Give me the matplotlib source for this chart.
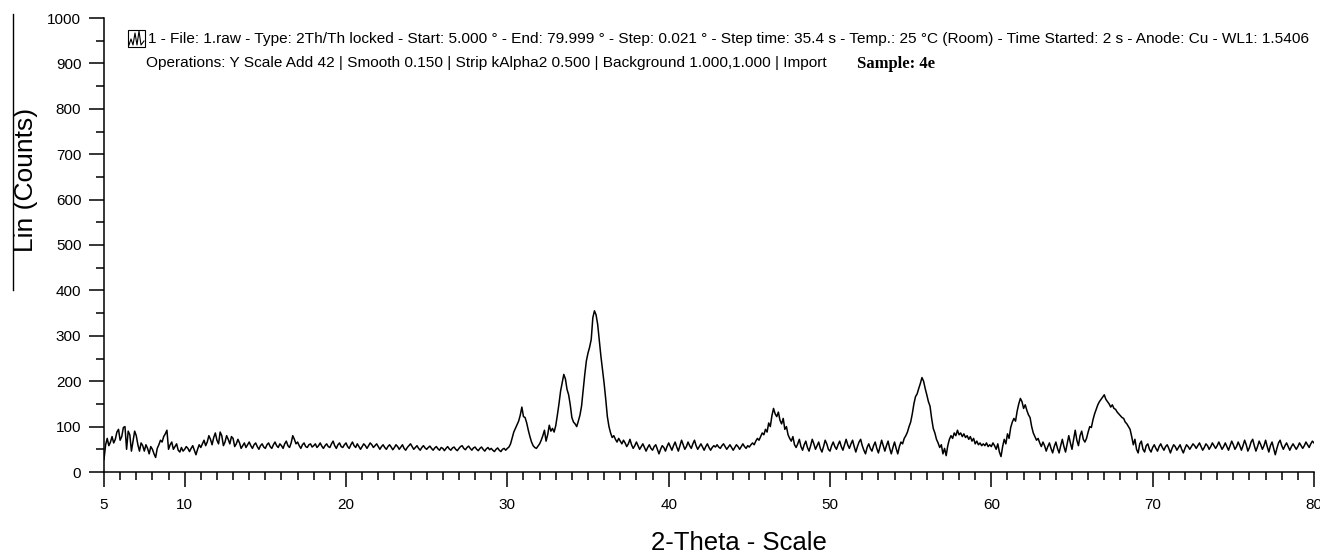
import numpy as np
import matplotlib
matplotlib.use("Agg")
import matplotlib.pyplot as plt
from matplotlib.lines import Line2D
from matplotlib.patches import Rectangle

# scan settings
START = 5.0
STEP = 0.1

# intensity (counts), 0.1 degree steps from 5.0 to 80.0
counts_05 = [28, 60, 74, 58, 66, 78, 64, 72, 88, 94,
             70, 78, 98, 100, 50, 90, 82, 46, 68, 90,
             80, 60, 46, 64, 58, 46, 60, 52, 40, 56,
             50, 40, 32, 52, 60, 70, 66, 78, 84, 92,
             50, 60, 66, 50, 56, 62, 48, 44, 54, 46]
counts_10 = [50, 56, 52, 45, 52, 58, 48, 38, 50, 60,
             54, 62, 70, 58, 66, 80, 72, 60, 76, 86,
             70, 62, 88, 80, 58, 66, 80, 72, 62, 78,
             74, 56, 62, 72, 64, 52, 58, 64, 54, 60,
             66, 58, 52, 60, 64, 56, 50, 58, 62, 55]
counts_15 = [52, 60, 64, 56, 52, 60, 66, 58, 54, 62,
             58, 52, 62, 68, 58, 54, 64, 80, 72, 62,
             66, 58, 52, 60, 64, 56, 54, 60, 62, 55,
             58, 62, 54, 58, 64, 57, 52, 58, 62, 56,
             54, 62, 68, 58, 52, 60, 64, 56, 54, 60]
counts_20 = [64, 56, 52, 60, 66, 58, 54, 62, 56, 50,
             56, 62, 58, 52, 58, 64, 60, 54, 58, 62,
             56, 50, 56, 60, 54, 50, 56, 60, 55, 49,
             54, 60, 56, 50, 55, 60, 52, 48, 54, 58,
             62, 56, 50, 54, 58, 52, 48, 54, 58, 53]
counts_25 = [50, 54, 57, 52, 48, 53, 56, 51, 48, 54,
             52, 47, 52, 56, 51, 48, 53, 55, 50, 47,
             52, 56, 58, 52, 49, 54, 57, 52, 48, 53,
             55, 50, 47, 52, 55, 50, 46, 51, 54, 49,
             52, 48, 45, 50, 53, 48, 45, 50, 52, 48]
counts_30 = [52, 55, 62, 75, 88, 96, 104, 112, 125, 143,
             122, 120, 108, 92, 78, 66, 58, 54, 52, 57,
             62, 70, 80, 92, 68, 82, 103, 90, 96, 88,
             102, 125, 150, 178, 196, 215, 205, 182, 170, 148,
             120, 110, 106, 100, 112, 125, 145, 180, 215, 245]
counts_35 = [262, 275, 292, 340, 355, 346, 325, 290, 255, 225,
             195, 160, 122, 100, 86, 76, 80, 72, 66, 74,
             68, 62, 70, 64, 56, 62, 72, 60, 52, 58,
             66, 58, 50, 56, 62, 54, 46, 54, 60, 52,
             48, 56, 60, 50, 40, 50, 58, 54, 46, 56]
counts_40 = [64, 56, 48, 58, 66, 55, 46, 58, 70, 60,
             50, 56, 66, 58, 52, 62, 70, 58, 50, 56,
             62, 55, 48, 56, 62, 54, 48, 54, 58, 55,
             60, 55, 52, 58, 62, 56, 50, 55, 60, 54,
             48, 54, 60, 56, 50, 56, 62, 56, 52, 58]
counts_45 = [55, 60, 64, 60, 68, 74, 70, 78, 86, 82,
             94, 88, 108, 100, 124, 140, 128, 122, 132, 114,
             106, 118, 94, 100, 82, 74, 68, 78, 60, 54,
             62, 72, 56, 48, 60, 68, 54, 46, 58, 72,
             62, 50, 58, 66, 52, 44, 56, 70, 62, 50]
counts_50 = [46, 58, 66, 56, 50, 60, 68, 56, 48, 60,
             72, 60, 52, 62, 70, 56, 44, 56, 66, 72,
             58, 48, 40, 54, 62, 52, 46, 58, 66, 52,
             42, 56, 70, 58, 46, 58, 68, 52, 40, 54,
             66, 52, 40, 56, 66, 62, 74, 80, 88, 100]
counts_55 = [110, 128, 150, 166, 172, 184, 195, 208, 200, 184,
             170, 155, 145, 118, 96, 86, 72, 64, 54, 60,
             40, 52, 36, 58, 72, 80, 74, 86, 80, 92,
             82, 86, 78, 84, 76, 80, 72, 78, 68, 74,
             62, 68, 60, 64, 58, 62, 58, 64, 56, 60]
counts_60 = [56, 64, 58, 50, 62, 44, 34, 56, 72, 62,
             84, 74, 98, 110, 118, 112, 134, 150, 162, 155,
             140, 148, 136, 126, 120, 100, 86, 78, 70, 74,
             64, 56, 66, 58, 46, 56, 64, 52, 42, 56,
             66, 52, 42, 58, 72, 56, 44, 62, 80, 64]
counts_65 = [50, 72, 92, 70, 58, 80, 90, 72, 66, 74,
             88, 100, 98, 115, 128, 138, 148, 155, 160, 165,
             170, 160, 155, 150, 143, 148, 140, 138, 132, 128,
             124, 120, 118, 110, 106, 100, 94, 78, 60, 72,
             50, 42, 62, 68, 50, 44, 58, 62, 50, 44]
counts_70 = [54, 60, 52, 46, 56, 62, 54, 48, 56, 60,
             52, 42, 52, 60, 56, 48, 54, 60, 50, 42,
             52, 60, 56, 50, 56, 62, 58, 52, 58, 64,
             56, 48, 54, 62, 58, 50, 56, 64, 58, 52,
             58, 66, 58, 50, 56, 64, 56, 48, 58, 68]
counts_75 = [60, 50, 56, 66, 58, 48, 58, 70, 60, 46,
             54, 66, 72, 58, 46, 56, 68, 60, 50, 58,
             70, 56, 44, 58, 66, 52, 38, 52, 64, 70,
             58, 50, 58, 64, 56, 48, 56, 62, 56, 50,
             56, 64, 58, 52, 58, 66, 60, 54, 62, 68,
             64]

counts = np.array(counts_05 + counts_10 + counts_15 + counts_20 + counts_25
                  + counts_30 + counts_35 + counts_40 + counts_45 + counts_50
                  + counts_55 + counts_60 + counts_65 + counts_70 + counts_75,
                  dtype=float)
two_theta = START + STEP * np.arange(len(counts))

y_major = list(range(0, 1001, 100))
x_major = [5, 10, 20, 30, 40, 50, 60, 70, 80]
x_minor = list(range(5, 81))

header_1 = ("1 - File: 1.raw - Type: 2Th/Th locked - Start: 5.000 \u00b0 - End: 79.999 \u00b0 - "
            "Step: 0.021 \u00b0 - Step time: 35.4 s - Temp.: 25 \u00b0C (Room) - Time Started: 2 s - "
            "Anode: Cu - WL1: 1.5406")
header_2 = ("Operations: Y Scale Add 42 | Smooth 0.150 | Strip kAlpha2 0.500 | "
            "Background 1.000,1.000 | Import")
sample = "Sample: 4e"

W, H = 1320, 555
plt.rcParams['font.family'] = ['Liberation Sans', 'DejaVu Sans']
fig = plt.figure(figsize=(W / 100, H / 100), dpi=100)
ax = fig.add_axes([104 / W, 1 - 472 / H, (1314 - 104) / W, (472 - 18) / H])

ax.plot(two_theta, counts, color='black', lw=1.1)

ax.set_xlim(5, 80)
ax.set_ylim(0, 1000)
for s in ('top', 'right'):
    ax.spines[s].set_visible(False)
for s in ('left', 'bottom'):
    ax.spines[s].set_linewidth(1.1)

ax.set_yticks(y_major)
ax.set_yticks([v + 50 for v in y_major[:-1]], minor=True)
ax.set_xticks(x_major)
ax.set_xticks(x_minor, minor=True)
# tick lengths in points: ~15 px major, ~8 px minor
ax.tick_params(axis='both', which='major', direction='out', length=10.8, width=1.1,
               labelsize=11, colors='black')
ax.tick_params(axis='both', which='minor', direction='out', length=5.8, width=1.1)
ax.tick_params(axis='y', which='major', pad=5.5)
ax.tick_params(axis='x', which='major', pad=8)

fig.text(739 / W, 1 - 543 / H, "2-Theta - Scale", fontsize=18.5, ha='center', va='center')
fig.text(26 / W, 1 - 180 / H, "Lin (Counts)", fontsize=19, rotation=90,
         ha='center', va='center')
fig.add_artist(Line2D([13 / W, 13 / W], [1 - 14 / H, 1 - 290 / H], color='black', lw=1.0))

# header block with the scan icon
fig.add_artist(Rectangle((128 / W, 1 - 47 / H), 17 / W, 17 / H, fill=False,
                         edgecolor='black', lw=0.8))
icon_x = np.array([129, 131, 133, 135, 137, 139, 141, 144]) / W
icon_y = 1 - np.array([45, 39, 45, 33, 45, 31, 45, 41]) / H
fig.add_artist(Line2D(icon_x, icon_y, color='black', lw=0.8))

fig.text(148 / W, 1 - 39 / H, header_1, fontsize=11.1, ha='left', va='center')
fig.text(146 / W, 1 - 63 / H, header_2, fontsize=11.1, ha='left', va='center')
fig.text(857 / W, 1 - 64 / H, sample, fontsize=12, ha='left', va='center',
         family=['Liberation Serif', 'DejaVu Serif'], weight='bold')

fig.savefig("out.png", dpi=100)
